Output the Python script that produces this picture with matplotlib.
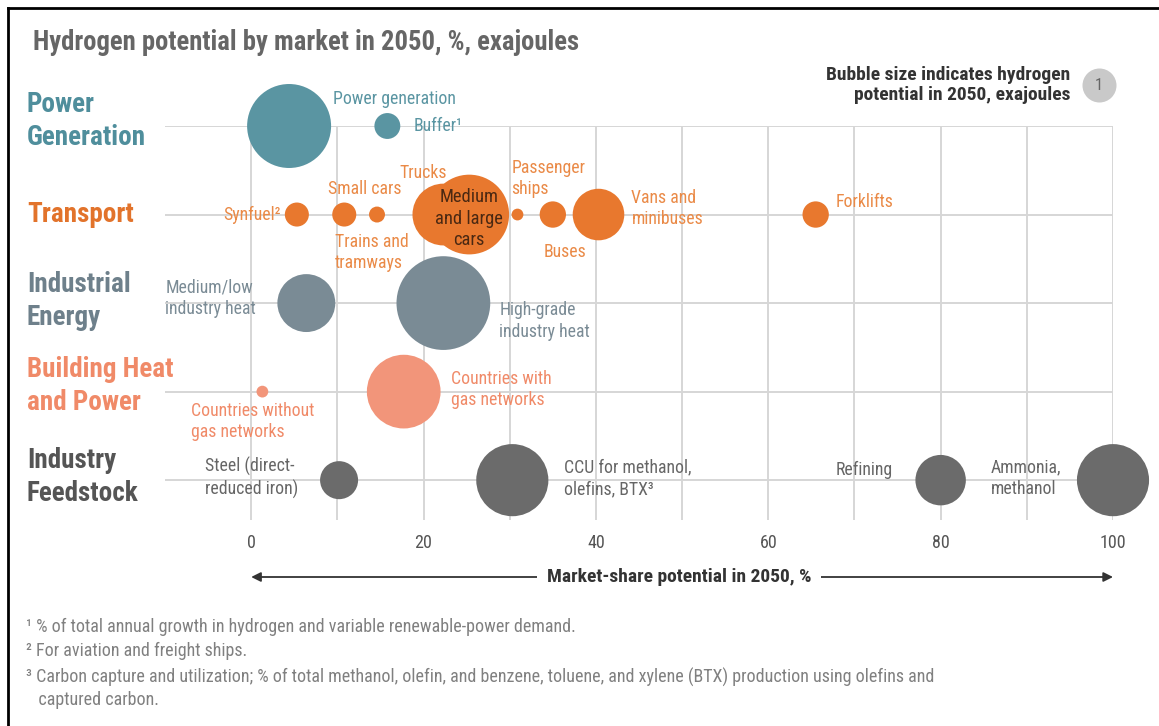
import matplotlib
matplotlib.use("Agg")
import matplotlib.pyplot as plt
from matplotlib import font_manager
from matplotlib.lines import Line2D

# pick a narrow font if one is installed
names = {f.name for f in font_manager.fontManager.ttflist}
FONT = "DejaVu Sans"
for cand in ["Liberation Sans Narrow", "Roboto Condensed", "Liberation Sans"]:
    if cand in names:
        FONT = cand
        break
plt.rcParams["font.family"] = [FONT, "DejaVu Sans"]

W, H = 1159, 726

# rows of the chart (top to bottom)
rows = ["Power\nGeneration", "Transport", "Industrial\nEnergy",
        "Building Heat\nand Power", "Industry\nFeedstock"]
row_title_colors = ["#4f8e9c", "#e2732b", "#6e808b", "#f08a68", "#555555"]
bubble_colors = ["#5a95a2", "#e8782e", "#7a8b95", "#f2957a", "#6b6b6b"]
label_colors = ["#5a95a2", "#ea8a47", "#7a8b95", "#f08a68", "#666666"]

# markets: label, row index, market share 2050 (%), hydrogen potential (EJ)
labels = ["Power generation", "Buffer\u00b9",
          "Synfuel\u00b2", "Small cars", "Trains and\ntramways", "Trucks",
          "Medium\nand large\ncars", "Passenger\nships", "Buses",
          "Vans and\nminibuses", "Forklifts",
          "Medium/low\nindustry heat", "High-grade\nindustry heat",
          "Countries without\ngas networks", "Countries with\ngas networks",
          "Steel (direct-\nreduced iron)", "CCU for methanol,\nolefins, BTX\u00b3",
          "Refining", "Ammonia,\nmethanol"]
row_of = [0, 0,
          1, 1, 1, 1, 1, 1, 1, 1, 1,
          2, 2,
          3, 3,
          4, 4, 4, 4]
share = [4.4, 15.8,
         5.3, 10.8, 14.6, 22.3, 25.3, 30.9, 35.0, 40.3, 65.5,
         6.4, 22.3,
         1.3, 17.7,
         10.2, 30.3, 80.0, 100.0]
energy = [6.1, 0.58,
          0.5, 0.5, 0.22, 3.3, 5.5, 0.12, 0.6, 2.3, 0.6,
          2.9, 7.6,
          0.12, 4.7,
          1.25, 4.5, 2.2, 4.5]

# label placement: offset from bubble centre in pixels, horizontal alignment
label_pos = [(44, -27, "left"), (26, 0, "left"),
             (-16, 0, "right"), (20, -26, "center"), (-42, 38, "left"),
             (-20, -42, "center"), (0, 4, "center"), (-6, -36, "left"),
             (12, 37, "center"), (33, -6, "left"), (20, -13, "left"),
             (-141, -5, "left"), (56, 18, "left"),
             (-71, 30, "left"), (47, -2, "left"),
             (-134, -2, "left"), (52, -2, "left"), (-48, -10, "right"),
             (-122, -2, "left")]

ticks = [0, 20, 40, 60, 80, 100]

footnotes = ["\u00b9 % of total annual growth in hydrogen and variable renewable-power demand.",
             "\u00b2 For aviation and freight ships.",
             "\u00b3 Carbon capture and utilization; % of total methanol, olefin, and benzene, "
             "toluene, and xylene (BTX) production using olefins and\n   captured carbon."]

EJ_PX = 17.0  # radius in px of a 1 EJ bubble


def size_of(ej):
    return (2 * EJ_PX * (ej ** 0.5) * 72 / 100) ** 2


fig = plt.figure(figsize=(W / 100, H / 100), dpi=100)
fig.patch.set_facecolor("white")

# axes in pixel terms: x -10..100 -> 165..1113 px, rows 126..520 px
ax = fig.add_axes([165 / W, 1 - 520 / H, (1113 - 165) / W, (520 - 126) / H])
ax.set_xlim(-10, 100)
ax.set_ylim(4.45, 0)
for s in ax.spines.values():
    s.set_visible(False)

ax.vlines(range(0, 101, 10), 0, 4.45, color="#d6d6d6", lw=1.4, zorder=0)
ax.hlines(range(len(rows)), -10, 100, color="#d6d6d6", lw=1.4, zorder=0)

ax.scatter(share, row_of, s=[size_of(e) for e in energy],
           c=[bubble_colors[r] for r in row_of], linewidths=0,
           clip_on=False, zorder=2)

for lab, r, x, (dx, dy, ha) in zip(labels, row_of, share, label_pos):
    col = label_colors[r]
    size = 12.8
    if lab.startswith("Medium\nand"):
        col = "#4a2812"
        size = 13.3
    ax.annotate(lab, xy=(x, r), xytext=(dx * 0.72, -dy * 0.72),
                textcoords="offset points", ha=ha, va="center",
                multialignment="left" if ha != "center" else "center",
                fontsize=size, color=col, linespacing=1.25, zorder=3)

ax.set_xticks(ticks)
ax.set_xticklabels([str(t) for t in ticks], fontsize=13, color="#555555")
ax.tick_params(axis="x", length=0, pad=10)
ax.set_yticks([])

# row titles
title_y = [121, 214, 301, 386, 477]
for name, col, py in zip(rows, row_title_colors, title_y):
    fig.text(27 / W, 1 - py / H, name, color=col, fontsize=19.5,
             fontweight="bold", va="center", ha="left", linespacing=1.27)

fig.text(33 / W, 1 - 42 / H, "Hydrogen potential by market in 2050, %, exajoules",
         fontsize=19.2, fontweight="bold", color="#666666", va="center")

# bubble size key
fig.text(1070 / W, 1 - 85 / H, "Bubble size indicates hydrogen\npotential in 2050, exajoules",
         fontsize=14, fontweight="bold", color="#333333", ha="right",
         va="center", linespacing=1.15)
key = fig.add_axes([1082 / W, 1 - 102 / H, 34 / W, 34 / H])
key.set_xlim(-1, 1)
key.set_ylim(-1, 1)
key.axis("off")
key.scatter([0], [0], s=size_of(1.0), c="#c9c9c9", linewidths=0, clip_on=False)
key.text(0, 0, "1", ha="center", va="center", fontsize=12, color="#666666")

# market-share arrow
ax.annotate("", xy=(0, 1 - 577 / H), xytext=(100, 1 - 577 / H),
            xycoords=("data", "figure fraction"),
            textcoords=("data", "figure fraction"),
            arrowprops=dict(arrowstyle="<|-|>", color="#333333", lw=1.3,
                            mutation_scale=14, shrinkA=0, shrinkB=0),
            annotation_clip=False)
fig.text(679 / W, 1 - 577 / H, "Market-share potential in 2050, %",
         fontsize=14, fontweight="bold", color="#333333", ha="center",
         va="center", bbox=dict(facecolor="white", edgecolor="none", pad=7))

# footnotes
for txt, py in zip(footnotes, [627, 651, 668]):
    fig.text(26 / W, 1 - py / H, txt, fontsize=13, color="#808080",
             va="top" if "\n" in txt else "center", linespacing=1.25)

# frame lines at top and left
fig.add_artist(Line2D([8 / W, 8 / W], [0, 1 - 8 / H], transform=fig.transFigure,
                      color="black", lw=2))
fig.add_artist(Line2D([8 / W, 1], [1 - 8 / H, 1 - 8 / H], transform=fig.transFigure,
                      color="black", lw=2))

fig.savefig("out.png", dpi=100, facecolor="white")
